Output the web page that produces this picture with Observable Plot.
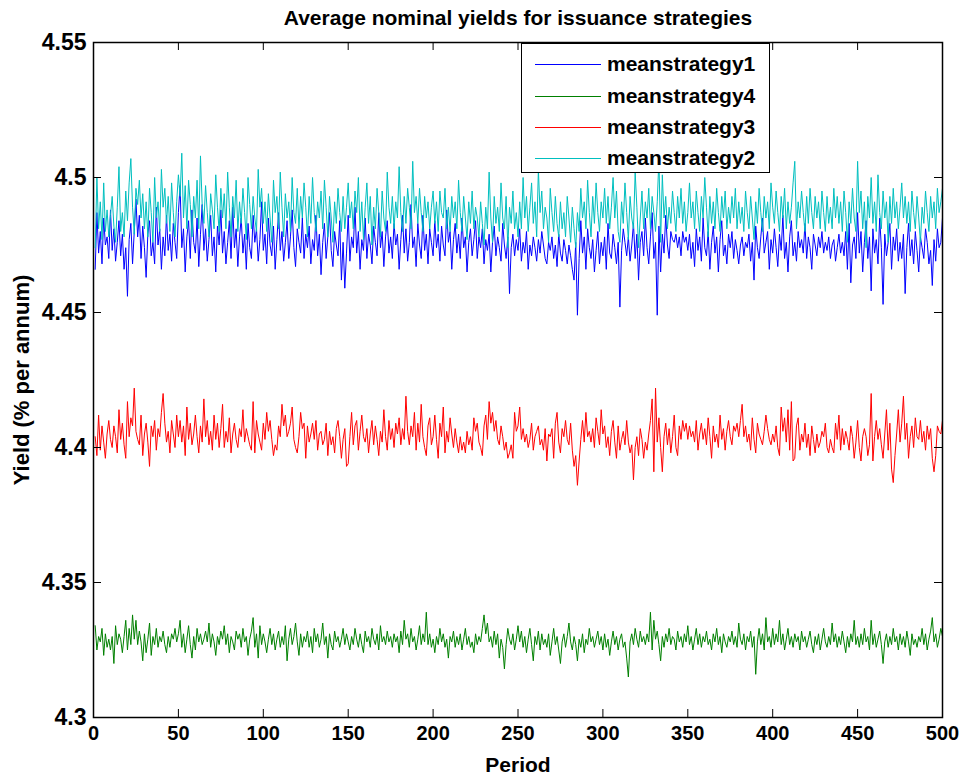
<!DOCTYPE html>
<html><head><meta charset="utf-8">
<script src="https://cdn.jsdelivr.net/npm/d3@7"></script>
<script src="https://cdn.jsdelivr.net/npm/@observablehq/plot@0.6"></script>
<style>
body{margin:0;background:#fff;font-family:"Liberation Sans",Arial,sans-serif;}
#wrap{position:relative;width:965px;height:780px;overflow:hidden;}
#title{position:absolute;left:93px;width:850px;top:6px;line-height:24px;text-align:center;font-weight:bold;font-size:21px;color:#000;}
#chart{position:absolute;left:0;top:34px;}
#xlabel{position:absolute;left:93px;width:850px;top:753px;line-height:24px;text-align:center;font-weight:bold;font-size:21px;color:#000;}
#ylabel{position:absolute;left:-128px;top:368px;width:300px;line-height:24px;text-align:center;font-weight:bold;font-size:22px;color:#000;transform:rotate(-90deg);}
#legend{position:absolute;left:521px;top:43px;width:249px;height:130px;border:1px solid #000;background:#fff;box-sizing:border-box;}
.row{position:absolute;left:0;height:24px;width:100%;}
.sw{position:absolute;left:13px;top:12px;width:66px;height:1px;}
.lb{position:absolute;left:85px;top:0;line-height:24px;font-weight:bold;font-size:21px;color:#000;}
</style></head>
<body>
<div id="wrap">
<div id="title">Average nominal yields for issuance strategies</div>
<div id="chart"></div>
<div id="xlabel">Period</div>
<div id="ylabel">Yield (% per annum)</div>
<div id="legend"></div>
</div>
<script>
const xTicks = [0,50,100,150,200,250,300,350,400,450,500];
const yTicks = [4.3,4.35,4.4,4.45,4.5,4.55];
const seriesNames = ["meanstrategy1","meanstrategy4","meanstrategy3","meanstrategy2"];
const seriesColors = ["#0000ff","#008000","#ff0000","#00bfbf"];

const meanstrategy1 = [
4.466,4.487,4.472,4.480,4.468,4.485,4.475,4.478,4.470,4.488,4.473,4.481,4.469,4.476,4.484,4.471,4.479,4.466,4.474,4.456,4.477,4.483,4.468,4.480,4.492,
4.478,4.486,4.470,4.482,4.474,4.463,4.479,4.484,4.471,4.476,4.468,4.489,4.475,4.481,4.466,4.478,4.471,4.486,4.473,4.479,4.469,4.483,4.476,4.470,4.487,
4.497,4.474,4.481,4.465,4.478,4.484,4.470,4.488,4.476,4.472,4.485,4.467,4.479,4.490,4.473,4.481,4.469,4.477,4.486,4.471,4.478,4.465,4.482,4.475,4.488,
4.472,4.480,4.468,4.476,4.484,4.470,4.489,4.474,4.481,4.467,4.478,4.485,4.472,4.479,4.466,4.483,4.474,4.470,4.486,4.476,4.481,4.469,4.477,4.491,4.473,
4.479,4.468,4.485,4.475,4.471,4.482,4.466,4.477,4.487,4.473,4.480,4.469,4.476,4.484,4.470,4.478,4.488,4.474,4.467,4.481,4.476,4.472,4.485,4.470,4.479,
4.474,4.482,4.468,4.477,4.473,4.486,4.471,4.479,4.464,4.476,4.483,4.470,4.478,4.487,4.473,4.467,4.480,4.475,4.471,4.484,4.462,4.476,4.459,4.472,4.486,
4.469,4.478,4.474,4.489,4.472,4.480,4.466,4.477,4.473,4.485,4.470,4.479,4.475,4.468,4.482,4.476,4.471,4.487,4.474,4.480,4.467,4.478,4.484,4.472,4.478,
4.470,4.483,4.475,4.479,4.466,4.477,4.486,4.472,4.481,4.469,4.476,4.490,4.474,4.478,4.467,4.483,4.475,4.470,4.486,4.473,4.479,4.468,4.481,4.476,4.471,
4.484,4.474,4.479,4.469,4.482,4.475,4.471,4.488,4.476,4.480,4.466,4.477,4.483,4.472,4.479,4.470,4.485,4.474,4.478,4.465,4.476,4.481,4.471,4.477,4.484,
4.470,4.478,4.474,4.481,4.468,4.477,4.473,4.479,4.465,4.476,4.482,4.471,4.478,4.474,4.469,4.483,4.475,4.470,4.478,4.457,4.474,4.479,4.471,4.477,4.473,
4.481,4.469,4.476,4.472,4.480,4.466,4.475,4.471,4.478,4.474,4.469,4.477,4.472,4.480,4.475,4.470,4.468,4.476,4.473,4.478,4.470,4.475,4.467,4.479,4.472,
4.469,4.477,4.473,4.468,4.475,4.471,4.466,4.462,4.476,4.449,4.470,4.484,4.472,4.478,4.466,4.481,4.474,4.470,4.477,4.465,4.473,4.480,4.468,4.476,4.471,
4.478,4.466,4.483,4.472,4.470,4.479,4.474,4.468,4.476,4.452,4.473,4.481,4.476,4.471,4.478,4.469,4.475,4.483,4.470,4.479,4.462,4.476,4.480,4.471,4.485,
4.474,4.468,4.478,4.487,4.470,4.476,4.449,4.482,4.465,4.479,4.472,4.486,4.475,4.470,4.480,4.477,4.476,4.479,4.474,4.478,4.471,4.480,4.476,4.478,4.473,
4.479,4.470,4.476,4.467,4.481,4.473,4.478,4.469,4.485,4.474,4.471,4.480,4.466,4.476,4.482,4.472,4.478,4.465,4.477,4.484,4.471,4.475,4.468,4.479,4.474,
4.480,4.470,4.477,4.473,4.468,4.475,4.478,4.471,4.476,4.474,4.479,4.469,4.476,4.462,4.482,4.474,4.470,4.478,4.485,4.472,4.476,4.480,4.466,4.477,4.472,
4.481,4.474,4.467,4.479,4.473,4.486,4.470,4.476,4.465,4.478,4.484,4.471,4.476,4.469,4.480,4.474,4.477,4.472,4.483,4.470,4.478,4.474,4.466,4.479,4.475,
4.471,4.478,4.474,4.480,4.472,4.476,4.473,4.478,4.470,4.475,4.477,4.469,4.474,4.479,4.472,4.476,4.471,4.480,4.466,4.483,4.461,4.475,4.478,4.470,4.487,
4.472,4.480,4.465,4.476,4.484,4.470,4.478,4.458,4.481,4.472,4.477,4.468,4.485,4.474,4.453,4.479,4.471,4.476,4.483,4.466,4.478,4.473,4.481,4.469,4.476,
4.470,4.479,4.457,4.474,4.483,4.471,4.477,4.468,4.480,4.473,4.465,4.478,4.474,4.470,4.481,4.476,4.468,4.473,4.460,4.477,4.469,4.481,4.474,4.476,4.485];

const meanstrategy2 = [
4.474,4.500,4.481,4.491,4.477,4.498,4.480,4.488,4.478,4.486,4.493,4.482,4.476,4.489,4.504,4.480,4.487,4.478,4.495,4.484,4.498,4.507,4.489,4.479,4.496,
4.490,4.499,4.485,4.494,4.481,4.491,4.478,4.496,4.487,4.476,4.500,4.485,4.491,4.480,4.503,4.489,4.496,4.483,4.493,4.480,4.498,4.487,4.478,4.491,4.501,
4.493,4.509,4.485,4.497,4.481,4.499,4.490,4.478,4.493,4.485,4.499,4.481,4.508,4.490,4.483,4.497,4.487,4.478,4.494,4.488,4.481,4.501,4.489,4.480,4.496,
4.485,4.494,4.481,4.502,4.489,4.478,4.493,4.485,4.499,4.480,4.491,4.483,4.496,4.487,4.477,4.500,4.490,4.481,4.493,4.485,4.480,4.503,4.489,4.496,4.483,
4.491,4.480,4.494,4.485,4.476,4.499,4.487,4.493,4.481,4.502,4.489,4.478,4.494,4.485,4.491,4.480,4.500,4.487,4.483,4.496,4.481,4.493,4.485,4.498,4.489,
4.478,4.493,4.483,4.500,4.487,4.480,4.491,4.485,4.495,4.481,4.499,4.489,4.478,4.493,4.485,4.476,4.491,4.483,4.496,4.487,4.480,4.493,4.481,4.489,4.498,
4.485,4.491,4.481,4.495,4.487,4.500,4.480,4.491,4.477,4.489,4.498,4.483,4.493,4.475,4.489,4.481,4.496,4.487,4.478,4.495,4.485,4.480,4.502,4.489,4.483,
4.493,4.481,4.491,4.485,4.504,4.487,4.480,4.493,4.483,4.496,4.489,4.481,4.506,4.487,4.493,4.483,4.496,4.487,4.480,4.493,4.485,4.491,4.481,4.489,4.495,
4.483,4.491,4.480,4.495,4.487,4.485,4.496,4.481,4.489,4.480,4.493,4.485,4.491,4.481,4.499,4.487,4.480,4.493,4.485,4.477,4.491,4.483,4.495,4.481,4.489,
4.485,4.478,4.491,4.483,4.475,4.489,4.481,4.502,4.485,4.476,4.493,4.483,4.489,4.480,4.498,4.485,4.481,4.493,4.474,4.489,4.483,4.495,4.481,4.487,4.478,
4.491,4.481,4.500,4.485,4.493,4.480,4.489,4.498,4.483,4.491,4.478,4.503,4.487,4.495,4.481,4.489,4.485,4.476,4.496,4.487,4.480,4.493,4.483,4.478,4.491,
4.481,4.487,4.478,4.493,4.485,4.476,4.489,4.481,4.474,4.487,4.480,4.496,4.485,4.491,4.481,4.499,4.487,4.478,4.493,4.483,4.498,4.487,4.480,4.491,4.485,
4.496,4.483,4.493,4.481,4.489,4.500,4.485,4.495,4.480,4.476,4.491,4.483,4.498,4.487,4.477,4.493,4.485,4.481,4.502,4.489,4.474,4.485,4.495,4.481,4.491,
4.485,4.496,4.481,4.493,4.487,4.480,4.491,4.507,4.476,4.501,4.485,4.493,4.481,4.489,4.483,4.495,4.487,4.480,4.493,4.485,4.496,4.483,4.491,4.480,4.487,
4.498,4.485,4.491,4.481,4.495,4.487,4.480,4.493,4.485,4.500,4.489,4.478,4.493,4.483,4.491,4.481,4.496,4.487,4.480,4.493,4.485,4.495,4.481,4.489,4.483,
4.493,4.485,4.496,4.481,4.491,4.483,4.489,4.480,4.495,4.487,4.481,4.493,4.485,4.477,4.491,4.483,4.496,4.487,4.480,4.493,4.485,4.491,4.481,4.498,4.489,
4.483,4.495,4.487,4.480,4.493,4.485,4.496,4.481,4.491,4.483,4.489,4.498,4.506,4.481,4.491,4.485,4.495,4.487,4.480,4.493,4.483,4.496,4.487,4.481,4.493,
4.485,4.491,4.481,4.495,4.487,4.480,4.493,4.483,4.489,4.481,4.496,4.485,4.493,4.483,4.491,4.480,4.495,4.487,4.476,4.491,4.483,4.496,4.485,4.480,4.506,
4.487,4.495,4.481,4.491,4.474,4.493,4.485,4.500,4.483,4.491,4.480,4.501,4.487,4.481,4.495,4.485,4.491,4.476,4.493,4.483,4.496,4.485,4.491,4.481,4.489,
4.498,4.485,4.493,4.483,4.491,4.480,4.495,4.487,4.481,4.493,4.485,4.476,4.489,4.483,4.495,4.487,4.480,4.493,4.485,4.491,4.481,4.496,4.487,4.491,4.496];

const meanstrategy3 = [
4.404,4.397,4.412,4.399,4.408,4.402,4.396,4.405,4.410,4.403,4.400,4.408,4.404,4.398,4.414,4.403,4.409,4.401,4.396,4.417,4.404,4.411,4.408,4.422,4.406,
4.403,4.401,4.412,4.397,4.405,4.409,4.402,4.393,4.408,4.404,4.410,4.399,4.407,4.404,4.413,4.420,4.409,4.402,4.406,4.398,4.410,4.405,4.400,4.412,4.404,
4.410,4.402,4.408,4.397,4.415,4.403,4.409,4.401,4.405,4.412,4.404,4.398,4.408,4.402,4.418,4.404,4.410,4.401,4.406,4.399,4.412,4.403,4.409,4.400,4.407,
4.416,4.400,4.406,4.402,4.411,4.398,4.405,4.409,4.403,4.400,4.407,4.404,4.414,4.402,4.407,4.404,4.401,4.399,4.417,4.398,4.410,4.405,4.402,4.399,4.409,
4.403,4.413,4.406,4.410,4.403,4.397,4.401,4.399,4.408,4.404,4.416,4.408,4.412,4.404,4.406,4.409,4.415,4.403,4.400,4.398,4.404,4.413,4.407,4.409,4.396,
4.408,4.402,4.405,4.409,4.403,4.410,4.399,4.405,4.406,4.401,4.403,4.409,4.397,4.406,4.401,4.404,4.398,4.407,4.410,4.404,4.396,4.403,4.407,4.393,4.394,
4.404,4.413,4.401,4.408,4.410,4.399,4.406,4.412,4.404,4.402,4.407,4.398,4.405,4.410,4.401,4.408,4.403,4.397,4.406,4.402,4.414,4.404,4.399,4.410,4.403,
4.407,4.400,4.409,4.405,4.411,4.401,4.407,4.403,4.419,4.406,4.401,4.408,4.404,4.413,4.399,4.409,4.402,4.416,4.404,4.400,4.397,4.408,4.411,4.401,4.404,
4.412,4.403,4.396,4.409,4.404,4.415,4.398,4.406,4.402,4.411,4.405,4.400,4.407,4.402,4.398,4.404,4.399,4.402,4.398,4.406,4.401,4.404,4.399,4.411,4.406,
4.409,4.402,4.400,4.397,4.408,4.412,4.403,4.417,4.409,4.413,4.406,4.410,4.403,4.401,4.408,4.404,4.399,4.402,4.396,4.398,4.401,4.396,4.413,4.406,4.408,
4.415,4.403,4.407,4.402,4.405,4.400,4.403,4.409,4.399,4.404,4.406,4.408,4.401,4.403,4.399,4.407,4.395,4.405,4.404,4.407,4.396,4.409,4.413,4.402,4.398,
4.407,4.404,4.410,4.403,4.401,4.409,4.399,4.393,4.397,4.386,4.395,4.403,4.410,4.402,4.413,4.404,4.406,4.402,4.407,4.400,4.411,4.406,4.401,4.414,4.405,
4.408,4.400,4.404,4.397,4.406,4.410,4.402,4.396,4.408,4.399,4.403,4.406,4.401,4.410,4.402,4.398,4.401,4.388,4.400,4.404,4.397,4.407,4.403,4.396,4.402,
4.399,4.405,4.410,4.418,4.391,4.422,4.402,4.411,4.400,4.391,4.404,4.409,4.401,4.407,4.398,4.404,4.412,4.400,4.397,4.408,4.403,4.410,4.406,4.409,4.403,
4.408,4.404,4.406,4.402,4.410,4.399,4.405,4.409,4.403,4.407,4.401,4.411,4.404,4.396,4.408,4.402,4.405,4.400,4.412,4.403,4.407,4.399,4.406,4.410,4.404,
4.401,4.408,4.406,4.409,4.404,4.410,4.416,4.404,4.408,4.402,4.405,4.399,4.411,4.403,4.398,4.409,4.405,4.403,4.401,4.406,4.412,4.407,4.403,4.401,4.405,
4.402,4.408,4.400,4.397,4.415,4.406,4.411,4.402,4.414,4.399,4.417,4.395,4.396,4.408,4.411,4.399,4.405,4.402,4.409,4.400,4.405,4.397,4.408,4.403,4.398,
4.405,4.400,4.402,4.406,4.404,4.409,4.400,4.398,4.403,4.400,4.398,4.409,4.403,4.412,4.399,4.407,4.401,4.406,4.403,4.399,4.408,4.404,4.396,4.402,4.410,
4.400,4.395,4.404,4.407,4.404,4.397,4.401,4.420,4.395,4.404,4.410,4.403,4.407,4.401,4.396,4.405,4.414,4.399,4.409,4.392,4.387,4.397,4.405,4.414,4.402,
4.409,4.419,4.403,4.409,4.396,4.404,4.408,4.400,4.411,4.404,4.403,4.410,4.402,4.406,4.399,4.408,4.403,4.407,4.396,4.391,4.397,4.408,4.406,4.405,4.410];

const meanstrategy4 = [
4.334,4.325,4.330,4.328,4.333,4.323,4.331,4.326,4.329,4.325,4.330,4.320,4.334,4.327,4.331,4.329,4.324,4.330,4.336,4.325,4.333,4.327,4.338,4.329,4.336,
4.327,4.332,4.328,4.321,4.331,4.324,4.329,4.335,4.323,4.330,4.327,4.333,4.326,4.330,4.328,4.332,4.327,4.324,4.330,4.326,4.331,4.329,4.333,4.328,4.331,
4.336,4.326,4.331,4.324,4.329,4.334,4.327,4.322,4.330,4.325,4.333,4.328,4.331,4.327,4.329,4.332,4.328,4.335,4.326,4.331,4.328,4.323,4.330,4.327,4.332,
4.329,4.334,4.327,4.331,4.324,4.330,4.328,4.325,4.332,4.329,4.331,4.326,4.333,4.328,4.330,4.323,4.329,4.332,4.337,4.326,4.331,4.322,4.334,4.327,4.331,
4.328,4.324,4.329,4.333,4.327,4.331,4.325,4.329,4.332,4.326,4.330,4.327,4.334,4.321,4.329,4.333,4.327,4.330,4.335,4.328,4.323,4.331,4.326,4.330,4.328,
4.332,4.326,4.330,4.324,4.333,4.328,4.331,4.326,4.329,4.335,4.327,4.330,4.322,4.331,4.327,4.325,4.332,4.328,4.330,4.326,4.329,4.333,4.327,4.331,4.328,
4.325,4.330,4.327,4.333,4.329,4.326,4.331,4.327,4.324,4.332,4.328,4.330,4.326,4.333,4.329,4.327,4.331,4.325,4.334,4.328,4.330,4.327,4.332,4.328,4.330,
4.326,4.331,4.328,4.330,4.324,4.332,4.327,4.336,4.329,4.331,4.326,4.333,4.328,4.330,4.325,4.329,4.334,4.327,4.331,4.328,4.339,4.327,4.331,4.326,4.329,
4.324,4.330,4.327,4.333,4.328,4.331,4.326,4.329,4.322,4.330,4.328,4.332,4.326,4.330,4.327,4.331,4.325,4.329,4.333,4.327,4.330,4.326,4.328,4.324,4.331,
4.327,4.330,4.328,4.333,4.338,4.331,4.335,4.328,4.330,4.326,4.332,4.327,4.331,4.322,4.329,4.326,4.318,4.327,4.333,4.329,4.327,4.331,4.325,4.329,4.334,
4.328,4.332,4.326,4.330,4.324,4.329,4.333,4.327,4.321,4.330,4.327,4.332,4.325,4.331,4.327,4.329,4.326,4.331,4.323,4.328,4.333,4.327,4.330,4.325,4.320,
4.328,4.331,4.326,4.330,4.335,4.328,4.325,4.330,4.327,4.321,4.329,4.326,4.331,4.324,4.329,4.327,4.333,4.328,4.330,4.326,4.329,4.332,4.327,4.330,4.325,
4.331,4.326,4.329,4.323,4.328,4.332,4.327,4.330,4.325,4.329,4.331,4.326,4.328,4.322,4.315,4.328,4.331,4.327,4.333,4.329,4.326,4.332,4.328,4.330,4.327,
4.331,4.328,4.339,4.325,4.336,4.329,4.332,4.327,4.321,4.330,4.326,4.331,4.328,4.333,4.327,4.330,4.329,4.325,4.332,4.328,4.330,4.326,4.331,4.328,4.334,
4.327,4.330,4.325,4.329,4.333,4.327,4.331,4.326,4.330,4.328,4.332,4.327,4.329,4.325,4.331,4.328,4.333,4.327,4.330,4.324,4.331,4.328,4.326,4.330,4.328,
4.332,4.327,4.330,4.326,4.335,4.329,4.327,4.331,4.325,4.330,4.328,4.332,4.326,4.330,4.316,4.328,4.333,4.327,4.331,4.325,4.337,4.328,4.330,4.326,4.333,
4.327,4.331,4.328,4.336,4.327,4.331,4.325,4.329,4.333,4.327,4.330,4.326,4.331,4.328,4.330,4.325,4.332,4.328,4.330,4.326,4.329,4.332,4.327,4.324,4.330,
4.327,4.331,4.325,4.329,4.333,4.328,4.326,4.330,4.327,4.335,4.328,4.331,4.326,4.330,4.327,4.332,4.328,4.324,4.330,4.326,4.331,4.328,4.336,4.327,4.330,
4.326,4.331,4.327,4.333,4.328,4.330,4.325,4.336,4.327,4.331,4.326,4.329,4.332,4.327,4.320,4.328,4.331,4.326,4.330,4.327,4.333,4.328,4.330,4.325,4.331,
4.327,4.330,4.326,4.332,4.328,4.323,4.331,4.327,4.329,4.326,4.330,4.328,4.333,4.327,4.331,4.325,4.329,4.332,4.337,4.328,4.331,4.326,4.329,4.333,4.330];

const seriesValues = [meanstrategy1, meanstrategy4, meanstrategy3, meanstrategy2];

const lineMarks = seriesValues.map((vals, k) => Plot.line(vals.map((v, i) => ({period: i + 1, yield: v})), {
  x: "period", y: "yield", stroke: seriesColors[k], strokeWidth: 1, clip: true
}));

const W = 965, H = 746, mT = 8, mB = 63, mL = 93, mR = 23;
const plotW = W - mL - mR, plotH = H - mT - mB, tickLen = 8;
const yFmt = d => String(+d.toFixed(2));

const chart = Plot.plot({
  width: W, height: H,
  marginTop: mT, marginBottom: mB, marginLeft: mL, marginRight: mR,
  style: {fontFamily: "'Liberation Sans', Arial, sans-serif", fontSize: "20px", fontWeight: "bold", color: "#000", background: "#fff", overflow: "visible"},
  x: {domain: [xTicks[0], xTicks[xTicks.length - 1]]},
  y: {domain: [yTicks[0], yTicks[yTicks.length - 1]]},
  marks: [
    ...lineMarks,
    Plot.ruleX(xTicks, {x: d => d, insetTop: plotH - tickLen, stroke: "#000", strokeWidth: 1}),
    Plot.ruleX(xTicks, {x: d => d, insetBottom: plotH - tickLen, stroke: "#000", strokeWidth: 1}),
    Plot.ruleY(yTicks, {y: d => d, insetRight: plotW - tickLen, stroke: "#000", strokeWidth: 1}),
    Plot.ruleY(yTicks, {y: d => d, insetLeft: plotW - tickLen, stroke: "#000", strokeWidth: 1}),
    Plot.frame({stroke: "#000", strokeWidth: 1.5}),
    Plot.axisX(xTicks, {anchor: "bottom", tickSize: 0, tickPadding: 8, fontSize: 20, tickFormat: d => String(d), label: null}),
    Plot.axisY(yTicks, {anchor: "left", tickSize: 0, tickPadding: 7, fontSize: 23, tickFormat: yFmt, label: null})
  ]
});
document.getElementById("chart").appendChild(chart);

const legend = document.getElementById("legend");
const rowTops = [8, 40, 71, 102];
seriesNames.forEach((name, k) => {
  const row = document.createElement("div");
  row.className = "row";
  row.style.top = rowTops[k] + "px";
  row.innerHTML = `<div class="sw" style="background:${seriesColors[k]}"></div><div class="lb">${name}</div>`;
  legend.appendChild(row);
});
</script>
</body></html>
